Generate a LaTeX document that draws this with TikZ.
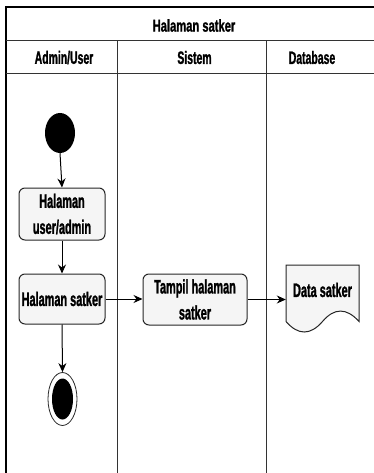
\documentclass[tikz,border=0pt]{standalone}
\usepackage{fontspec}
\usetikzlibrary{shapes.geometric,arrows.meta}
\newfontfamily\boxfont[FakeStretch=0.56,FakeBold=1.2]{Liberation Sans Bold}
\newfontfamily\headfont[FakeStretch=0.58,FakeBold=1.2]{Liberation Sans Bold}
\newfontfamily\titlefont[FakeStretch=0.65,FakeBold=1.2]{Liberation Sans Bold}
\definecolor{boxfill}{HTML}{F5F5F5}
\tikzset{
  lane/.style={line width=1pt, draw=black!80},
  border/.style={line width=1.6pt, draw=black},
  action/.style={draw=black!85, fill=boxfill, line width=1pt, rounded corners=6pt,
    align=center, inner sep=0pt, font=\boxfont\fontsize{19.5pt}{26pt}\selectfont},
  headtext/.style={inner sep=0pt, font=\headfont\fontsize{18pt}{22pt}\selectfont},
  titletext/.style={inner sep=0pt, font=\titlefont\fontsize{17.2pt}{20pt}\selectfont},
  flow/.style={draw=black, line width=1pt, -{Stealth[length=9pt,width=8pt]}},
}
\begin{document}
\begin{tikzpicture}[x=1pt,y=-1pt]
\useasboundingbox (0,0) rectangle (374,473);

% swimlane frame
\draw[border] (6,473) -- (6,7) -- (374,7);
\draw[lane] (6,41) -- (374,41);
\draw[lane] (6,74) -- (374,74);
\draw[lane] (117,41) -- (117,473);
\draw[lane] (266,41) -- (266,473);

\node[titletext] (title) at (194,25.5) {Halaman satker};
\node[headtext] (hadmin) at (64,57.5) {Admin/User};
\node[headtext] (hsis) at (194.5,57.5) {Sistem};
\node[headtext] (hdb) at (312,57.5) {Database};

% initial state
\node[ellipse, fill=black, inner sep=0pt, minimum width=30pt, minimum height=40pt] (start) at (60,133) {};

% actions
\node[action, minimum width=86pt, minimum height=52pt] (userpage) at (62,214) {Halaman\\user/admin};
\node[action, minimum width=86pt, minimum height=50pt] (satker) at (62,299) {Halaman satker};
\node[action, minimum width=104pt, minimum height=51pt] (tampil) at (195,299.5) {Tampil halaman\\satker};

% data store (document shape, wavy lower edge)
\draw[draw=black!85, fill=boxfill, line width=1pt]
  (286,265) -- (359,265) -- (359,321.5)
  .. controls (346.5,307.6) and (334.3,307.6) .. (322.5,321.5)
  .. controls (310.3,335.5) and (298.2,335.5) .. (286,321.5) -- cycle;
\node[inner sep=0pt, minimum width=73pt, minimum height=50pt,
  font=\boxfont\fontsize{19.5pt}{26pt}\selectfont] (doc) at (322.5,290) {Data satker};

% final state
\node[ellipse, draw=black!85, fill=white, line width=0.8pt, inner sep=0pt,
  minimum width=29pt, minimum height=53pt] (final) at (62.5,399) {};
\node[ellipse, fill=black, inner sep=0pt, minimum width=21pt, minimum height=41pt] (finalcore) at (final) {};

% control flow
\draw[flow] (start.south) -- (userpage.north);
\draw[flow] (userpage.south) -- (satker.north);
\draw[flow] (satker.east) -- (tampil.west |- satker.east);
\draw[flow] (tampil.east) -- (doc.west |- tampil.east);
\draw[flow] (satker.south) -- (final.north);
\end{tikzpicture}
\end{document}
